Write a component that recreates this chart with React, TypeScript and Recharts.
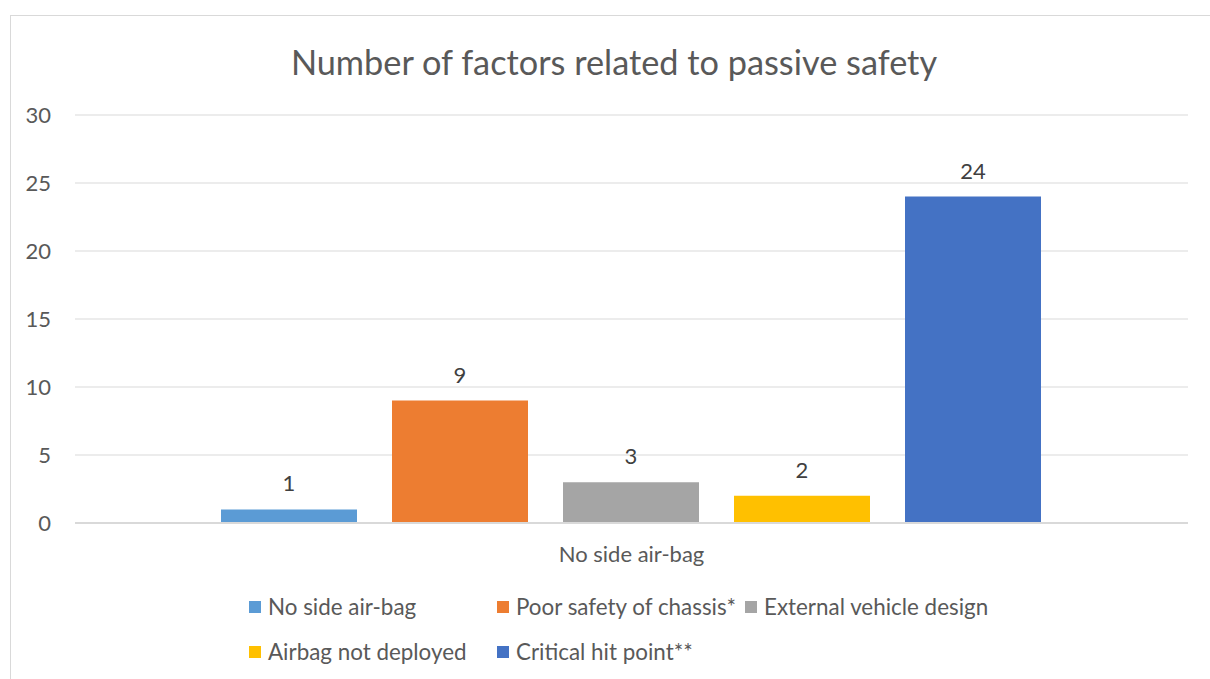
import * as React from "react";
import { BarChart, Bar, XAxis, YAxis, CartesianGrid, Legend, LabelList } from "recharts";

const categories = ["No side air-bag"];
const seriesNames = [
  "No side air-bag",
  "Poor safety of chassis*",
  "External vehicle design",
  "Airbag not deployed",
  "Critical hit point**",
];
const seriesValues = [1, 9, 3, 2, 24];
const seriesColors = ["#5B9BD5", "#ED7D31", "#A5A5A5", "#FFC000", "#4472C4"];
const yTicks = [0, 5, 10, 15, 20, 25, 30];

const data = categories.map((name) => {
  const row: Record<string, string | number> = { name };
  seriesNames.forEach((s, i) => {
    row["s" + i] = seriesValues[i];
  });
  return row;
});

const FONT = "Lato, 'Open Sans', sans-serif";
const TEXT = "#595959";

// legend in Excel order, two rows
function LegendRows({ payload }: any) {
  const items = [...((payload || []) as any[])].sort(
    (a, b) => seriesNames.indexOf(a.value) - seriesNames.indexOf(b.value)
  );
  const rows = [items.slice(0, 3), items.slice(3)];
  return (
    <div style={{ fontFamily: FONT, fontSize: 22.4, color: TEXT }}>
      {rows.map((row, r) => (
        <div key={r} style={{ display: "flex", height: 45, alignItems: "center" }}>
          {row.map((it: any) => (
            <div
              key={it.value}
              style={{ display: "flex", alignItems: "center", minWidth: 248, paddingRight: 6, boxSizing: "border-box" }}
            >
              <span style={{ width: 12, height: 12, background: it.color, marginRight: 7, flex: "none" }} />
              <span style={{ whiteSpace: "nowrap" }}>{it.value}</span>
            </div>
          ))}
        </div>
      ))}
    </div>
  );
}

export default function App() {
  return (
    <div style={{ position: "absolute", left: 0, top: 0, width: 1210, height: 679, overflow: "hidden", background: "#fff" }}>
      <div
        style={{
          position: "absolute",
          left: 10,
          top: 15,
          width: 1220,
          height: 700,
          border: "1px solid #d9d9d9",
          boxSizing: "border-box",
        }}
      />
      <div
        style={{
          position: "absolute",
          left: 0,
          top: 40,
          width: 1228,
          textAlign: "center",
          fontFamily: FONT,
          fontSize: 34.3,
          color: TEXT,
          lineHeight: "44px",
        }}
      >
        Number of factors related to passive safety
      </div>
      <BarChart
        width={1210}
        height={679}
        data={data}
        margin={{ top: 115, right: 22, bottom: 126, left: 0 }}
        barCategoryGap={146}
        barGap={35}
        style={{ position: "absolute", left: 0, top: 0 }}
      >
        <CartesianGrid vertical={false} stroke="#d9d9d9" strokeWidth={1} />
        <XAxis
          dataKey="name"
          height={30}
          axisLine={{ stroke: "#d9d9d9", strokeWidth: 2 }}
          tickLine={false}
          tickSize={0}
          tickMargin={23}
          tick={{ fontFamily: FONT, fontSize: 22, fill: TEXT }}
        />
        <YAxis
          width={75}
          domain={[0, 30]}
          ticks={yTicks}
          axisLine={false}
          tickLine={false}
          tickSize={0}
          tickMargin={24}
          tick={{ fontFamily: FONT, fontSize: 22, fill: TEXT }}
        />
        <Legend
          layout="horizontal"
          verticalAlign="middle"
          align="center"
          content={<LegendRows />}
          wrapperStyle={{ left: 249, top: 584, width: 800 }}
        />
        {seriesNames.map((s, i) => (
          <Bar key={s} dataKey={"s" + i} name={s} fill={seriesColors[i]} isAnimationActive={false}>
            <LabelList
              dataKey={"s" + i}
              position="top"
              offset={18}
              style={{ fontFamily: FONT, fontSize: 22, fill: "#404040" }}
            />
          </Bar>
        ))}
      </BarChart>
    </div>
  );
}
